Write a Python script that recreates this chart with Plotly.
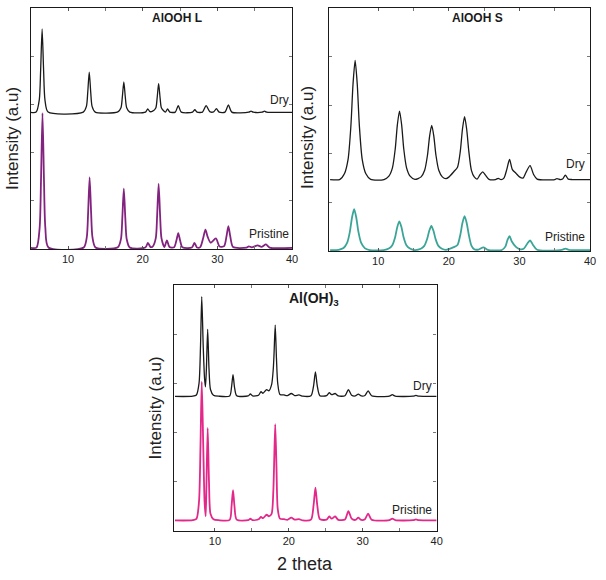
import plotly.graph_objects as go

# ---------------- data ----------------
# AlOOH L, dry (black)
L_DRY_X = [5.0, 5.73, 6.15, 6.33, 6.53, 6.73, 6.91, 7.33, 12.04, 12.46, 12.64, 12.84, 13.04, 13.22, 13.64,
           16.67, 17.09, 17.27, 17.47, 17.67, 17.85, 18.27, 20.37, 20.67, 20.97, 21.33, 21.75, 21.93, 22.13,
           22.33, 22.51, 23.03, 23.33, 23.63, 24.36, 24.76, 25.16, 26.68, 26.98, 27.28, 28.0, 28.49, 28.98,
           29.5, 29.87, 30.24, 31.02, 31.47, 31.92, 34.2, 34.5, 34.8, 36.0, 36.3, 36.6, 40.0]
L_DRY_Y = [56.7, 56.8, 61.9, 74.0, 91.3, 74.0, 61.9, 56.8, 56.8, 59.2, 65.0, 73.4, 65.0, 59.2, 56.8,
           56.9, 58.6, 63.0, 69.3, 63.0, 58.6, 56.8, 56.8, 58.1, 57.0, 57.2, 58.5, 62.6, 68.6,
           62.6, 58.5, 56.8, 58.1, 56.8, 56.8, 59.5, 56.8, 56.8, 57.8, 56.8, 56.8, 59.5, 57.0,
           56.9, 58.2, 56.8, 56.8, 59.8, 56.8, 56.8, 57.2, 56.8, 56.8, 57.2, 56.8, 56.7]
# AlOOH L, pristine (purple)
L_PRI_X = [5.0, 5.78, 6.2, 6.38, 6.58, 6.78, 6.96, 7.38, 12.09, 12.51, 12.69, 12.89, 13.09, 13.27, 13.69,
           16.67, 17.09, 17.27, 17.47, 17.67, 17.85, 18.27, 20.35, 20.7, 21.05, 21.33, 21.75, 21.93, 22.13,
           22.33, 22.51, 22.9, 23.24, 23.58, 24.2, 24.51, 24.76, 25.01, 25.32, 26.58, 26.93, 27.28, 27.7,
           28.1, 28.4, 28.7, 29.1, 29.8, 30.3, 30.9, 31.22, 31.47, 31.72, 32.1, 33.9, 34.2, 34.6, 35.4,
           35.9, 36.5, 37.0, 40.0]
L_PRI_Y = [0.5, 0.6, 8.9, 28.5, 56.4, 28.5, 8.9, 0.6, 0.6, 4.9, 15.1, 29.7, 15.1, 4.9, 0.6,
           0.7, 4.2, 12.8, 25.0, 12.8, 4.2, 0.6, 0.6, 2.5, 0.8, 1.0, 4.5, 13.8, 27.0,
           13.8, 4.5, 0.8, 3.6, 0.8, 0.7, 3.5, 6.6, 3.5, 0.7, 0.6, 2.5, 0.6, 0.8,
           4.6, 8.0, 5.0, 2.6, 4.4, 1.0, 1.2, 5.3, 9.5, 5.3, 0.8, 0.6, 1.1, 0.7, 1.5,
           0.9, 1.9, 0.6, 0.5]
# AlOOH S, dry (black)
S_DRY_X = [3.2, 4.54, 5.24, 5.74, 6.14, 6.44, 6.74, 7.04, 7.34, 7.74, 8.24, 8.94, 10.82, 11.52, 12.02,
           12.42, 12.72, 13.02, 13.32, 13.62, 14.02, 14.52, 15.2, 16.08, 16.58, 16.98, 17.28, 17.58,
           17.88, 18.18, 18.58, 19.08, 19.6, 20.0, 20.7, 21.23, 21.63, 21.93, 22.23, 22.53, 22.83, 23.2,
           23.6, 24.0, 24.4, 24.8, 25.2, 25.7, 26.6, 27.0, 27.4, 27.8, 28.2, 28.6, 29.0, 29.5, 30.0,
           30.5, 30.9, 31.5, 32.0, 32.5, 35.0, 35.3, 35.8, 36.1, 36.5, 36.9, 37.5, 40.0]
S_DRY_Y = [29.4, 29.4, 31.9, 37.7, 51.5, 68.6, 78.4, 68.6, 51.5, 37.7, 31.9, 29.5, 29.4, 30.8, 34.2,
           42.1, 52.0, 57.6, 52.0, 42.1, 34.2, 30.8, 29.5, 30.5, 33.2, 39.4, 47.2, 51.7,
           47.2, 39.4, 33.2, 30.5, 29.8, 30.4, 32.6, 34.5, 41.1, 50.1, 55.3, 50.1, 41.1, 33.2,
           30.5, 29.6, 31.3, 32.6, 31.2, 29.5, 29.4, 29.9, 29.4, 30.0, 33.5, 37.7, 33.5, 32.0, 30.5,
           30.0, 32.2, 35.1, 31.5, 29.6, 29.4, 29.8, 29.4, 29.6, 31.2, 29.6, 29.4, 29.4]
# AlOOH S, pristine (teal)
S_PRI_X = [3.2, 4.4, 5.1, 5.6, 6.0, 6.3, 6.6, 6.9, 7.2, 7.6, 8.1, 8.8, 10.8, 11.5, 12.0, 12.4, 12.7,
           13.0, 13.3, 13.6, 14.0, 14.5, 15.2, 16.03, 16.53, 16.93, 17.23, 17.53, 17.83, 18.13, 18.53,
           19.03, 19.6, 20.0, 20.7, 21.23, 21.63, 21.93, 22.23, 22.53, 22.83, 23.2, 23.6, 24.2, 24.9,
           25.5, 27.5, 28.0, 28.3, 28.6, 28.9, 29.5, 30.0, 30.6, 31.1, 31.5, 31.9, 32.5, 36.0, 36.5,
           37.0, 40.0]
S_PRI_Y = [0.4, 0.5, 1.2, 3.3, 8.0, 13.8, 17.2, 13.8, 8.0, 3.3, 1.2, 0.4, 0.4, 1.0, 2.4, 5.7, 9.8,
           12.2, 9.8, 5.7, 2.4, 1.0, 0.4, 0.9, 2.1, 4.9, 8.3, 10.3, 8.3, 4.9, 2.1,
           0.9, 0.5, 0.8, 1.6, 2.5, 6.7, 11.5, 14.3, 11.5, 6.7, 2.2, 0.7, 0.6, 1.5,
           0.5, 0.4, 1.8, 4.5, 6.1, 4.0, 1.7, 0.8, 0.9, 3.0, 4.4, 2.6, 0.5, 0.5, 1.0,
           0.5, 0.4]
# Al(OH)3, dry (black)
G_DRY_X = [4.6, 7.0, 7.5, 7.85, 8.05, 8.22, 8.42, 8.6, 8.72, 8.85, 9.02, 9.2, 9.4, 9.8, 10.5, 12.0,
           12.25, 12.45, 12.65, 12.95, 14.5, 14.8, 15.1, 15.9, 16.24, 16.5, 17.0, 17.3, 17.67, 17.9,
           18.0, 18.16, 18.33, 18.5, 18.8, 19.36, 19.8, 20.34, 20.8, 21.37, 21.9, 23.0, 23.35, 23.6,
           23.85, 24.2, 25.1, 25.47, 25.8, 26.27, 26.7, 27.6, 28.06, 28.5, 29.0, 29.4, 29.8, 30.3,
           30.73, 31.2, 33.6, 34.0, 34.4, 36.8, 37.2, 37.6, 40.0]
G_DRY_Y = [54.7, 54.8, 55.3, 60.0, 75.0, 95.3, 75.0, 62.0, 58.6, 66.0, 82.0, 66.0, 57.5, 55.2, 54.8, 54.9,
           58.5, 63.6, 58.5, 55.0, 54.9, 55.7, 54.9, 55.2, 56.6, 56.0, 57.5, 57.0, 59.5, 66.0,
           72.0, 83.7, 70.0, 60.0, 55.5, 55.3, 55.0, 55.9, 55.0, 55.3, 54.8, 55.0, 59.0, 64.7,
           59.0, 55.0, 55.0, 56.2, 55.4, 55.9, 54.9, 55.0, 57.5, 55.2, 54.9, 55.6, 54.9, 55.1,
           57.0, 55.0, 54.8, 55.4, 54.8, 54.8, 55.1, 54.8, 54.7]
# Al(OH)3, pristine (magenta)
G_PRI_X = [4.6, 7.0, 7.5, 7.85, 8.05, 8.22, 8.42, 8.6, 8.75, 8.85, 9.02, 9.2, 9.4, 9.8, 10.5, 12.0,
           12.25, 12.45, 12.65, 12.95, 14.5, 14.8, 15.1, 15.9, 16.24, 16.5, 17.0, 17.3, 17.67, 17.9,
           18.0, 18.16, 18.33, 18.5, 18.8, 19.36, 19.8, 20.34, 20.8, 21.37, 21.9, 23.0, 23.35, 23.6,
           23.85, 24.2, 25.1, 25.47, 25.8, 26.27, 26.7, 27.6, 28.06, 28.5, 29.0, 29.4, 29.8, 30.3,
           30.73, 31.2, 33.6, 34.0, 34.4, 36.8, 37.2, 37.6, 40.0]
G_PRI_Y = [4.3, 4.4, 4.9, 12.0, 35.0, 60.7, 35.0, 12.0, 6.0, 18.0, 41.9, 20.0, 7.0, 4.8, 4.4, 4.5,
           10.0, 16.6, 10.0, 4.6, 4.4, 5.0, 4.4, 4.8, 5.7, 5.2, 6.6, 6.0, 7.0, 16.0,
           26.0, 43.4, 26.0, 9.0, 5.0, 4.8, 4.5, 5.4, 4.6, 4.8, 4.3, 4.6, 10.5, 17.6,
           10.5, 4.8, 4.6, 5.9, 5.0, 5.9, 4.5, 4.7, 8.1, 5.0, 4.5, 5.4, 4.5, 4.8,
           7.1, 4.6, 4.4, 5.0, 4.4, 4.4, 4.7, 4.4, 4.3]

PANEL_TITLES = ["<b>AlOOH L</b>", "<b>AlOOH S</b>", "<b>Al(OH)<sub>3</sub></b>"]
SERIES_NAMES = ["Dry", "Pristine"]
X_TICKS = [10, 20, 30, 40]
Y_TITLE = "Intensity (a.u)"
X_TITLE = "2 theta"

# ---------------- styling ----------------
FONT = "Liberation Sans, Arial, sans-serif"
BLACK = "#1a1a1a"
PURPLE = "#82237f"
TEAL = "#3aa597"
MAGENTA = "#e3288a"

W, H = 606, 580
def px(x):
    return x / W
def py(y):
    return 1 - y / H

panels = [
    dict(xd=(31, 295), yd=(8, 249), xr=[5, 40], dry=(L_DRY_X, L_DRY_Y), pri=(L_PRI_X, L_PRI_Y), col=PURPLE,
         title_xy=(179, 18), ytitle_x=12, ytitle_y=138,
         dry_lab=(39.8, 62.0), pri_lab=(39.8, 6.2)),
    dict(xd=(332, 596), yd=(8, 251), xr=[3, 40], dry=(S_DRY_X, S_DRY_Y), pri=(S_PRI_X, S_PRI_Y), col=TEAL,
         title_xy=(482, 18), ytitle_x=311, ytitle_y=137,
         dry_lab=(39.6, 35.8), pri_lab=(39.6, 5.6)),
    dict(xd=(176, 441), yd=(285, 531), xr=[4.5, 40], dry=(G_DRY_X, G_DRY_Y), pri=(G_PRI_X, G_PRI_Y), col=MAGENTA,
         title_xy=(317, 299), ytitle_x=157, ytitle_y=408,
         dry_lab=(39.6, 59.0), pri_lab=(39.6, 8.6)),
]

fig = go.Figure()
layout = dict(
    width=W, height=H,
    margin=dict(l=0, r=0, t=0, b=0),
    paper_bgcolor="white", plot_bgcolor="white",
    showlegend=False,
    font=dict(family=FONT, color=BLACK),
)
annotations = []

for i, p in enumerate(panels):
    n = "" if i == 0 else str(i + 1)
    xa, ya = "x" + n, "y" + n
    fig.add_trace(go.Scatter(x=p["dry"][0], y=p["dry"][1], mode="lines", xaxis=xa, yaxis=ya,
                             line=dict(color=BLACK, width=1.3, shape="spline", smoothing=0.7),
                             name=SERIES_NAMES[0], hoverinfo="skip"))
    fig.add_trace(go.Scatter(x=p["pri"][0], y=p["pri"][1], mode="lines", xaxis=xa, yaxis=ya,
                             line=dict(color=p["col"], width=1.8, shape="spline", smoothing=0.7),
                             name=SERIES_NAMES[1], hoverinfo="skip"))
    layout["xaxis" + n] = dict(
        domain=[px(p["xd"][0]), px(p["xd"][1])], range=p["xr"], anchor=ya,
        showline=True, linecolor=BLACK, linewidth=1.3, mirror="ticks",
        ticks="inside", ticklen=3, tickcolor="#555", tickvals=X_TICKS,
        minor=dict(tickvals=[15, 25, 35], ticks="inside", ticklen=3, tickcolor="#777"),
        showgrid=False, zeroline=False,
        tickfont=dict(size=11, family=FONT, color="#222"),
    )
    layout["yaxis" + n] = dict(
        domain=[py(p["yd"][1]), py(p["yd"][0])], range=[0, 100], anchor=xa,
        showline=True, linecolor=BLACK, linewidth=1.3, mirror="ticks",
        ticks="inside", ticklen=3, tickcolor="#777", tickvals=[20, 40, 60, 80],
        showticklabels=False, showgrid=False, zeroline=False,
    )
    annotations.append(dict(text=PANEL_TITLES[i], x=px(p["title_xy"][0]), y=py(p["title_xy"][1]),
                            xref="paper", yref="paper", xanchor="center", yanchor="middle", showarrow=False,
                            font=dict(size=12 if i < 2 else 14, family=FONT, color=BLACK)))
    annotations.append(dict(text=Y_TITLE, x=px(p["ytitle_x"]), y=py(p["ytitle_y"]), textangle=-90,
                            xref="paper", yref="paper", xanchor="center", yanchor="middle", showarrow=False,
                            font=dict(size=17, family=FONT, color="#222")))
    annotations.append(dict(text=SERIES_NAMES[0], x=p["dry_lab"][0], y=p["dry_lab"][1], xref=xa, yref=ya,
                            xanchor="right", yanchor="middle", showarrow=False,
                            font=dict(size=12, family=FONT, color="#222")))
    annotations.append(dict(text=SERIES_NAMES[1], x=p["pri_lab"][0], y=p["pri_lab"][1], xref=xa, yref=ya,
                            xanchor="right", yanchor="middle", showarrow=False,
                            font=dict(size=12, family=FONT, color="#222")))

annotations.append(dict(text=X_TITLE, x=px(308), y=py(564), xref="paper", yref="paper",
                        xanchor="center", yanchor="middle", showarrow=False,
                        font=dict(size=18, family=FONT, color="#222")))
layout["annotations"] = annotations
fig.update_layout(**layout)
fig.write_html("out.html")
